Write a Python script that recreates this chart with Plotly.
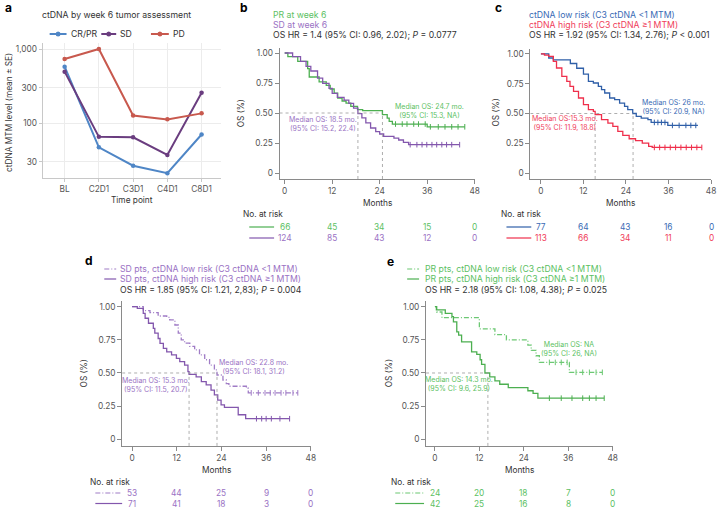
import numpy as np
import plotly.graph_objects as go

W, H = 721, 508
FONT = "Inter"


def X(px):
    return px / W


def Y(py):
    return 1 - py / H


# ---------------- Panel a data ----------------
a_timepoints = ["BL", "C2D1", "C3D1", "C4D1", "C8D1"]
a_crpr = [577, 47, 26.5, 21, 70]
a_sd = [494, 65, 64, 37, 257]
a_pd = [733, 1000, 126, 112, 135]
a_yticks = [30, 100, 300, 1000]
a_yticklabels = ["30", "100", "300", "1,000"]

# ---------------- KM data (time in months, survival after event) ----------------
b_pr_t = [0, 0.8, 3.3, 5.8, 6.2, 8.7, 10.5, 11.5, 12.5, 13.4, 14.5, 15.5, 16.7, 18.4, 19.7, 24.7, 25.9, 26.4, 27.2, 36.0]
b_pr_s = [1.0, 0.97, 0.93, 0.87, 0.80, 0.76, 0.73, 0.70, 0.665, 0.625, 0.60, 0.583, 0.556, 0.528, 0.52, 0.486, 0.458, 0.43, 0.408, 0.385]
b_pr_end = 45.5
b_pr_cens = [28, 29.7, 30.9, 32.6, 33.8, 35.5, 36.8, 38.8, 40.5, 42.2, 43.8, 45.5]

b_sd_t = [0, 2.0, 4.0, 5.4, 6.6, 8.3, 9.6, 11.2, 12.0, 13.3, 15.0, 16.2, 17.4, 18.5, 19.5, 20.5, 21.7, 23.0, 24.0, 25.0, 27.6, 28.8, 30.0, 31.3]
b_sd_s = [1.0, 0.97, 0.93, 0.889, 0.85, 0.79, 0.747, 0.705, 0.664, 0.63, 0.608, 0.58, 0.54, 0.495, 0.46, 0.417, 0.375, 0.345, 0.325, 0.305, 0.29, 0.275, 0.255, 0.236]
b_sd_end = 44.2
b_sd_cens = [31.7, 33.4, 34.7, 35.9, 37.2, 38.4, 39.7, 40.9, 42.2, 44.2]

c_low_t = [0, 2.2, 3.5, 8.3, 10.1, 12.0, 13.4, 14.8, 16.2, 17.1, 18.0, 19.4, 20.8, 22.2, 23.6, 24.5, 25.9, 26.9, 28.3, 30.2, 31.1, 35.8]
c_low_s = [1.0, 0.966, 0.95, 0.92, 0.88, 0.83, 0.77, 0.756, 0.728, 0.70, 0.672, 0.63, 0.616, 0.588, 0.56, 0.532, 0.50, 0.476, 0.462, 0.448, 0.425, 0.40]
c_low_end = 44.3
c_low_cens = [32, 33, 34, 35, 37.1, 39, 40.9, 42.3, 43.7]

c_high_t = [0, 1.0, 2.2, 3.5, 4.4, 5.9, 7.3, 8.2, 9.2, 10.6, 12.0, 13.4, 14.8, 15.3, 17.1, 18.9, 20.3, 21.7, 23.1, 24.9, 26.7, 28.6, 30.4, 31.4]
c_high_s = [1.0, 0.99, 0.98, 0.938, 0.882, 0.812, 0.77, 0.728, 0.686, 0.63, 0.574, 0.532, 0.518, 0.49, 0.448, 0.42, 0.392, 0.35, 0.316, 0.288, 0.272, 0.252, 0.224, 0.215]
c_high_end = 45.4
c_high_cens = [32, 33.5, 35, 36.5, 38, 39.5, 41, 42.5, 44, 45.4]

d_low_t = [0, 3.0, 4.8, 7.0, 9.3, 10.1, 11.5, 12.4, 13.2, 14.1, 15.5, 16.8, 18.1, 19.5, 20.8, 22.1, 22.8, 24.4, 25.3, 26.0, 30.7, 31.2]
d_low_s = [1.0, 0.97, 0.955, 0.93, 0.92, 0.90, 0.862, 0.80, 0.75, 0.725, 0.70, 0.674, 0.636, 0.60, 0.56, 0.523, 0.485, 0.447, 0.42, 0.40, 0.385, 0.35]
d_low_end = 44.5
d_low_cens = [32, 33.9, 35.7, 37.1, 38.4, 40, 41.3, 43.2, 44.5]

d_high_t = [0, 1.4, 3.0, 3.5, 4.4, 5.7, 6.1, 7.0, 7.5, 8.4, 9.3, 10.6, 11.9, 12.8, 14.1, 15.0, 15.3, 17.2, 18.6, 19.9, 21.2, 22.1, 23.0, 23.9, 24.8, 28.5, 30.5]
d_high_s = [1.0, 0.988, 0.95, 0.913, 0.875, 0.837, 0.80, 0.76, 0.723, 0.686, 0.66, 0.636, 0.61, 0.585, 0.56, 0.51, 0.49, 0.47, 0.435, 0.41, 0.37, 0.335, 0.296, 0.26, 0.24, 0.185, 0.155]
d_high_end = 42.3
d_high_cens = [33.4, 34.8, 36, 37.4, 39.7, 42.3]

e_low_t = [0, 0.5, 1.9, 12.0, 16.2, 19.3, 25.1, 26.0, 27.3, 28.2, 36.3]
e_low_s = [1.0, 0.96, 0.917, 0.833, 0.79, 0.75, 0.71, 0.67, 0.63, 0.58, 0.505]
e_low_end = 45.2
e_low_cens = [30.9, 32.5, 34.1, 35.7, 38.1, 39.9, 41.7, 43.5, 45.2]

e_high_t = [0, 0.4, 2.8, 4.6, 5.0, 5.9, 6.4, 7.2, 9.9, 11.3, 12.2, 12.6, 13.5, 14.8, 16.2, 17.5, 19.8, 25.1, 26.5, 27.8]
e_high_s = [1.0, 0.976, 0.95, 0.925, 0.885, 0.81, 0.785, 0.735, 0.66, 0.64, 0.60, 0.565, 0.50, 0.47, 0.44, 0.415, 0.39, 0.366, 0.346, 0.31]
e_high_end = 45.7
e_high_cens = [30.9, 34.1, 37.0, 39.9, 41.7, 43.5, 45.7]

risk_months = [0, 12, 24, 36, 48]
b_risk_pr = [66, 45, 34, 15, 0]
b_risk_sd = [124, 85, 43, 12, 0]
c_risk_low = [77, 64, 43, 16, 0]
c_risk_high = [113, 66, 34, 11, 0]
d_risk_low = [53, 44, 25, 9, 0]
d_risk_high = [71, 41, 18, 3, 0]
e_risk_low = [24, 20, 18, 7, 0]
e_risk_high = [42, 25, 16, 8, 0]

b_medians = [24.7, 18.5]
c_medians = [26.0, 15.3]
d_medians = [22.8, 15.3]
e_medians = [14.3]

# colours
C_CRPR, C_SD, C_PD = "#4f86c6", "#6a3d7f", "#c8594e"
GREEN, GREEN_T = "#4caf50", "#5cbf63"
GREEN_L = "#6cc873"
PURPLE, PURPLE_T = "#8357ad", "#9a72c4"
PURPLE_L = "#a07cc6"
BLUE, BLUE_T = "#2f5fa8", "#3a6bb5"
RED, RED_T = "#ef2f4b", "#f0405a"
DARK = "#333333"
TICK = "#555555"
AXC = "#8a8a8a"

TS = 8.7   # title text size
fig = go.Figure()

# ---------------- Panel a ----------------
a_series = [("CR/PR", a_crpr, C_CRPR), ("SD", a_sd, C_SD), ("PD", a_pd, C_PD)]
for name, vals, col in a_series:
    fig.add_trace(go.Scatter(x=a_timepoints, y=vals, name=name, mode="lines+markers",
                             line=dict(color=col, width=2), marker=dict(color=col, size=4.5),
                             xaxis="x", yaxis="y", showlegend=False))

fig.update_layout(
    xaxis=dict(domain=[X(43), X(223)], anchor="y", type="category", range=[-0.64, 4.58],
               showline=True, linecolor="#c8c8c8", ticks="outside", ticklen=3, tickcolor="#c8c8c8",
               showgrid=True, gridcolor="#ececec", tickfont=dict(size=8.3, color=TICK)),
    yaxis=dict(domain=[Y(178), Y(43)], anchor="x", type="log", range=[1.257, 3.081],
               tickvals=a_yticks, ticktext=a_yticklabels,
               showline=True, linecolor="#c8c8c8", ticks="outside", ticklen=3, tickcolor="#c8c8c8",
               showgrid=True, gridcolor="#ececec", zeroline=False, tickfont=dict(size=8.3, color=TICK)),
)


# ---------------- KM helpers ----------------
def surv_at(t, s, times):
    t = np.asarray(t)
    s = np.asarray(s)
    idx = np.searchsorted(t, times, side="right") - 1
    return s[idx]


def add_km(t, s, end, cens, col, dash, ax):
    xs = list(t) + [end]
    ys = list(s) + [s[-1]]
    fig.add_trace(go.Scatter(x=xs, y=ys, mode="lines", line=dict(color=col, width=1.3, shape="hv", dash=dash),
                             xaxis="x" + ax, yaxis="y" + ax, showlegend=False, hoverinfo="skip"))
    fig.add_trace(go.Scatter(x=cens, y=surv_at(t, s, cens), mode="markers",
                             marker=dict(symbol="line-ns-open", size=4, color=col,
                                         line=dict(color=col, width=1)),
                             xaxis="x" + ax, yaxis="y" + ax, showlegend=False, hoverinfo="skip"))


DASHDOT = "5px,2px,1px,2px"

panels = {
    "2": dict(dx=(281.5, 478), dy=(48.2, 179), xmin=-1.3),
    "3": dict(dx=(534, 716), dy=(49.2, 179), xmin=-3.0),
    "4": dict(dx=(123, 313), dy=(301.4, 445.9), xmin=-2.67),
    "5": dict(dx=(429, 617), dy=(301.4, 445.9), xmin=-2.4),
}
for ax, p in panels.items():
    fig.layout["xaxis" + ax] = dict(domain=[X(p["dx"][0]), X(p["dx"][1])], anchor="y" + ax,
                                    range=[p["xmin"], 48], tickvals=[0, 12, 24, 36, 48],
                                    showline=True, linecolor=AXC, linewidth=1, ticks="outside", ticklen=4,
                                    tickcolor=AXC, showgrid=False, zeroline=False,
                                    tickfont=dict(size=8.3, color=TICK))
    fig.layout["yaxis" + ax] = dict(domain=[Y(p["dy"][1]), Y(p["dy"][0])], anchor="x" + ax,
                                    range=[-0.05, 1.04], tickvals=[0, 0.25, 0.5, 0.75, 1.0],
                                    ticktext=["0", "0.25", "0.50", "0.75", "1.00"],
                                    showline=True, linecolor=AXC, linewidth=1, ticks="outside", ticklen=4,
                                    tickcolor=AXC, showgrid=False, zeroline=False,
                                    tickfont=dict(size=8.3, color=TICK))

add_km(b_pr_t, b_pr_s, b_pr_end, b_pr_cens, GREEN, "solid", "2")
add_km(b_sd_t, b_sd_s, b_sd_end, b_sd_cens, PURPLE, "solid", "2")
add_km(c_low_t, c_low_s, c_low_end, c_low_cens, BLUE, "solid", "3")
add_km(c_high_t, c_high_s, c_high_end, c_high_cens, RED, "solid", "3")
add_km(d_low_t, d_low_s, d_low_end, d_low_cens, PURPLE_L, DASHDOT, "4")
add_km(d_high_t, d_high_s, d_high_end, d_high_cens, PURPLE, "solid", "4")
add_km(e_low_t, e_low_s, e_low_end, e_low_cens, GREEN_L, DASHDOT, "5")
add_km(e_high_t, e_high_s, e_high_end, e_high_cens, GREEN, "solid", "5")

shapes = []
# median guide lines
for ax, meds in [("2", b_medians), ("3", c_medians), ("4", d_medians), ("5", e_medians)]:
    xmin = panels[ax]["xmin"]
    shapes.append(dict(type="line", xref="x" + ax, yref="y" + ax, x0=xmin, x1=max(meds), y0=0.5, y1=0.5,
                       line=dict(color="#999999", width=0.8, dash="dot")))
    for m in meds:
        shapes.append(dict(type="line", xref="x" + ax, yref="y" + ax, x0=m, x1=m, y0=-0.05, y1=0.5,
                           line=dict(color="#999999", width=0.8, dash="dot")))

annotations = []


def txt(x, y, s, size=TS, color=DARK, xanchor="left", bold=False, angle=0):
    annotations.append(dict(x=X(x), y=Y(y), xref="paper", yref="paper", text=("<b>%s</b>" % s) if bold else s,
                            showarrow=False, xanchor=xanchor, yanchor="middle", textangle=angle,
                            font=dict(size=size, color=color, family=FONT)))


# panel letters
txt(3, 8, "a", 12, "#000", bold=True)
txt(240, 8, "b", 12, "#000", bold=True)
txt(496, 8, "c", 12, "#000", bold=True)
txt(84, 260, "d", 12, "#000", bold=True)
txt(388, 261, "e", 12, "#000", bold=True)

# panel a texts + manual legend
txt(40, 15, "ctDNA by week 6 tumor assessment", TS, DARK)
txt(9, 112, "ctDNA MTM level (mean ± SE)", 8.3, DARK, xanchor="center", angle=-90)
txt(133, 200, "Time point", 8.3, DARK, xanchor="center")
for (name, vals, col), (lx0, lx1, tx) in zip(a_series, [(50, 67, 69), (102, 117, 119), (152, 170, 172)]):
    shapes.append(dict(type="line", xref="paper", yref="paper", x0=X(lx0), x1=X(lx1), y0=Y(34), y1=Y(34),
                       line=dict(color=col, width=2)))
    cx = (lx0 + lx1) / 2
    shapes.append(dict(type="circle", xref="paper", yref="paper", x0=X(cx - 2.5), x1=X(cx + 2.5),
                       y0=Y(36.5), y1=Y(31.5), fillcolor=col, line=dict(color=col, width=0)))
    txt(tx, 34, name, TS, DARK)

# panel b texts
txt(273, 15, "PR at week 6", TS, GREEN_T)
txt(273, 25, "SD at week 6", TS, PURPLE_T)
txt(273, 35, "OS HR = 1.4 (95% CI: 0.96, 2.02); <i>P</i> = 0.0777", TS, DARK)
txt(433, 111, "Median OS: 24.7 mo.<br>(95% CI: 15.3, NA)", 7, GREEN_T, xanchor="center")
txt(325, 124, "Median OS: 18.5 mo.<br>(95% CI: 15.2, 22.4)", 7, PURPLE_T, xanchor="center")

# panel c texts
txt(531, 15, "ctDNA low risk (C3 ctDNA &lt;1 MTM)", TS, BLUE_T)
txt(531, 25, "ctDNA high risk (C3 ctDNA ≥1 MTM)", TS, RED_T)
txt(531, 35, "OS HR = 1.92 (95% CI: 1.34, 2.76); <i>P</i> &lt; 0.001", TS, DARK)
txt(678, 107, "Median OS: 26 mo.<br>(95% CI: 20.9, NA)", 7, BLUE_T, xanchor="center")
txt(569, 123, "Median OS:15.3 mo.<br>(95% CI: 11.9, 18.8)", 7, RED_T, xanchor="center")

# panel d texts
txt(119, 269, "SD pts, ctDNA low risk (C3 ctDNA &lt;1 MTM)", TS, PURPLE_T)
txt(119, 279, "SD pts, ctDNA high risk (C3 ctDNA ≥1 MTM)", TS, PURPLE_T)
txt(119, 290, "OS HR = 1.85 (95% CI: 1.21, 2,83); <i>P</i> = 0.004", TS, DARK)
txt(255, 367, "Median OS: 22.8 mo.<br>(95% CI: 18.1, 31.2)", 7, PURPLE_T, xanchor="center")
txt(157, 385, "Median OS: 15.3 mo.<br>(95% CI: 11.5, 20.7)", 7, PURPLE_T, xanchor="center")
shapes.append(dict(type="line", xref="paper", yref="paper", x0=X(105), x1=X(117), y0=Y(269), y1=Y(269),
                   line=dict(color=PURPLE_L, width=1.2, dash=DASHDOT)))
shapes.append(dict(type="line", xref="paper", yref="paper", x0=X(105), x1=X(117), y0=Y(279), y1=Y(279),
                   line=dict(color=PURPLE, width=1.2)))

# panel e texts
txt(426, 269, "PR pts, ctDNA low risk (C3 ctDNA &lt;1 MTM)", TS, GREEN_T)
txt(426, 279, "PR pts, ctDNA high risk (C3 ctDNA ≥1 MTM)", TS, GREEN_T)
txt(426, 290, "OS HR = 2.18 (95% CI: 1.08, 4.38); <i>P</i> = 0.025", TS, DARK)
txt(573, 349, "Median OS: NA<br>(95% CI: 26, NA)", 7, GREEN_T, xanchor="center")
txt(462, 384, "Median OS: 14.3 mo.<br>(95% CI: 9.6, 25.9)", 7, GREEN_T, xanchor="center")
shapes.append(dict(type="line", xref="paper", yref="paper", x0=X(410), x1=X(422), y0=Y(269), y1=Y(269),
                   line=dict(color=GREEN_L, width=1.2, dash=DASHDOT)))
shapes.append(dict(type="line", xref="paper", yref="paper", x0=X(410), x1=X(422), y0=Y(279), y1=Y(279),
                   line=dict(color=GREEN, width=1.2)))

# axis titles for KM panels
for ax, (mx, my, ox, oy) in {"2": (380, 203, 243, 113), "3": (625, 203, 499, 113),
                             "4": (218, 470, 85, 373), "5": (523, 470, 392, 373)}.items():
    txt(mx, my, "Months", 8.3, DARK, xanchor="center")
    txt(ox, oy, "OS (%)", 8.3, DARK, xanchor="center", angle=-90)


# at-risk tables
def risk_table(ax, head_x, head_y, sample_x0, sample_x1, rows):
    txt(head_x, head_y, "No. at risk", 8.3, DARK)
    for (yy, counts, col, tcol, dash) in rows:
        shapes.append(dict(type="line", xref="paper", yref="paper", x0=X(sample_x0), x1=X(sample_x1),
                           y0=Y(yy), y1=Y(yy), line=dict(color=col, width=1.2, dash=dash)))
        for m, c in zip(risk_months, counts):
            annotations.append(dict(x=m, y=Y(yy), xref="x" + ax, yref="paper", text=str(c), showarrow=False,
                                    xanchor="center", yanchor="middle",
                                    font=dict(size=8.3, color=tcol, family=FONT)))


risk_table("2", 243, 214, 251, 276, [(227, b_risk_pr, GREEN, GREEN_T, "solid"),
                                     (238, b_risk_sd, PURPLE, PURPLE_T, "solid")])
risk_table("3", 502, 214, 510, 535, [(227, c_risk_low, BLUE, BLUE_T, "solid"),
                                     (238, c_risk_high, RED, RED_T, "solid")])
risk_table("4", 89, 482, 96, 123, [(493, d_risk_low, PURPLE_L, PURPLE_T, DASHDOT),
                                   (503.5, d_risk_high, PURPLE, PURPLE_T, "solid")])
risk_table("5", 392, 482, 398, 427, [(493, e_risk_low, GREEN_L, GREEN_T, DASHDOT),
                                     (503.5, e_risk_high, GREEN, GREEN_T, "solid")])

fig.update_layout(width=W, height=H, margin=dict(l=0, r=0, t=0, b=0), plot_bgcolor="white",
                  paper_bgcolor="white", font=dict(family=FONT, size=9, color=DARK),
                  shapes=shapes, annotations=annotations, showlegend=False)

fig.write_html("out.html", config={"displayModeBar": False},
               post_script="document.body.style.margin='0px';document.body.style.overflow='hidden';")
